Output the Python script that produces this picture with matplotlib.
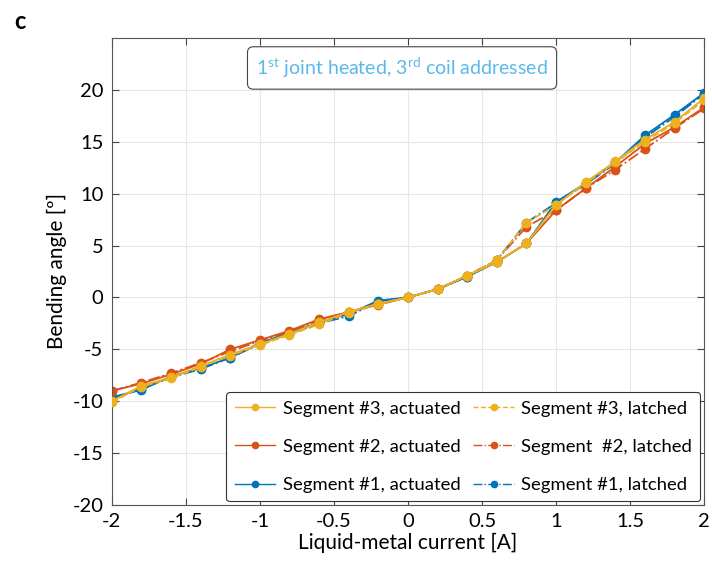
import numpy as np
import matplotlib
matplotlib.use("Agg")
import matplotlib.pyplot as plt

plt.rcParams["font.family"] = ["Lato", "DejaVu Sans"]

current = [-2.0, -1.8, -1.6, -1.4, -1.2, -1.0, -0.8, -0.6, -0.4, -0.2, 0.0,
           0.2, 0.4, 0.6, 0.8, 1.0, 1.2, 1.4, 1.6, 1.8, 2.0]

seg3_act = [-10.0, -8.5, -7.7, -6.6, -5.5, -4.5, -3.5, -2.4, -1.4, -0.6, 0.0,
            0.8, 2.1, 3.4, 5.2, 8.9, 11.1, 13.1, 15.2, 16.9, 19.2]
seg2_act = [-9.0, -8.3, -7.4, -6.4, -5.0, -4.1, -3.2, -2.1, -1.4, -0.6, 0.0,
            0.8, 2.1, 3.4, 5.2, 8.4, 10.5, 12.6, 14.8, 16.4, 18.3]
seg1_act = [-9.6, -8.9, -7.6, -6.8, -5.8, -4.4, -3.4, -2.4, -1.6, -0.3, 0.0,
            0.8, 2.0, 3.4, 5.2, 9.2, 11.0, 13.0, 15.6, 17.6, 19.7]
seg3_lat = [-10.1, -8.6, -7.8, -6.7, -5.6, -4.6, -3.6, -2.6, -1.5, -0.6, 0.0,
            0.8, 2.1, 3.6, 7.2, 8.9, 11.0, 13.0, 15.0, 16.8, 19.0]
seg2_lat = [-9.0, -8.2, -7.3, -6.3, -5.2, -4.2, -3.3, -2.2, -1.4, -0.7, 0.0,
            0.8, 2.1, 3.6, 6.8, 8.4, 10.5, 12.3, 14.3, 16.3, 18.2]
seg1_lat = [-9.8, -8.8, -7.7, -6.9, -5.8, -4.5, -3.5, -2.5, -1.8, -0.4, 0.0,
            0.8, 2.0, 3.6, 7.2, 9.1, 10.9, 12.9, 15.4, 17.4, 19.6]

blue = "#0072BD"
orange = "#D95319"
yellow = "#EDB120"

fig = plt.figure(figsize=(7.12, 5.65), dpi=100)
ax = fig.add_axes([0.157, 0.106, 0.832, 0.827])

lw = 1.3
ms = 6
l3a, = ax.plot(current, seg3_act, "-", color=yellow, lw=lw, marker="o", ms=ms,
               label="Segment #3, actuated", zorder=3)
l2a, = ax.plot(current, seg2_act, "-", color=orange, lw=lw, marker="o", ms=ms,
               label="Segment #2, actuated", zorder=2)
l1a, = ax.plot(current, seg1_act, "-", color=blue, lw=lw, marker="o", ms=ms,
               label="Segment #1, actuated", zorder=1)
l3l, = ax.plot(current, seg3_lat, "--", color=yellow, lw=lw, marker="o", ms=ms,
               label="Segment #3, latched", zorder=3)
l2l, = ax.plot(current, seg2_lat, "-.", color=orange, lw=lw, marker="o", ms=ms,
               label="Segment  #2, latched", zorder=2)
l1l, = ax.plot(current, seg1_lat, "-.", color=blue, lw=lw, marker="o", ms=ms,
               label="Segment #1, latched", zorder=1)

ax.set_xlim(-2, 2)
ax.set_ylim(-20, 25)
ax.set_xticks(np.arange(-2, 2.01, 0.5))
ax.set_xticklabels(["-2", "-1.5", "-1", "-0.5", "0", "0.5", "1", "1.5", "2"])
ax.set_yticks(np.arange(-20, 21, 5))
ax.set_yticklabels([str(v) for v in range(-20, 21, 5)])
ax.tick_params(direction="in", length=5, labelsize=14.5, top=True, right=True,
               color="#444444", pad=6)
ax.grid(True, color="#e6e6e6", lw=0.8)
ax.set_axisbelow(True)
for s in ax.spines.values():
    s.set_color("#555555")
    s.set_linewidth(0.8)

ax.set_xlabel("Liquid-metal current [A]", fontsize=15, labelpad=2)
ax.set_ylabel("Bending angle [º]", fontsize=15, labelpad=4)

ax.text(-0.04, 22.1, r"1$^{\mathregular{st}}$ joint heated, 3$^{\mathregular{rd}}$ coil addressed",
        ha="center", va="center", fontsize=14, color="#5AB8EC",
        bbox=dict(boxstyle="round,pad=0.45,rounding_size=0.3", fc="white",
                  ec="#444444", lw=0.8))

leg = ax.legend(handles=[l3a, l2a, l1a, l3l, l2l, l1l], ncol=2, loc="lower right",
                fontsize=13.3, frameon=True, fancybox=True, handlelength=2.2,
                markerscale=0.75, columnspacing=0.7, borderaxespad=0.2,
                handletextpad=0.4, labelspacing=1.2, borderpad=0.45)
leg.get_frame().set_edgecolor("#333333")
leg.get_frame().set_linewidth(0.8)
leg.get_frame().set_alpha(1)
for h in leg.get_lines():
    h.set_linewidth(1.0)

fig.text(0.02, 0.962, "c", fontsize=17, fontweight="bold", ha="left", va="center")

fig.savefig("out.png", dpi=100)
